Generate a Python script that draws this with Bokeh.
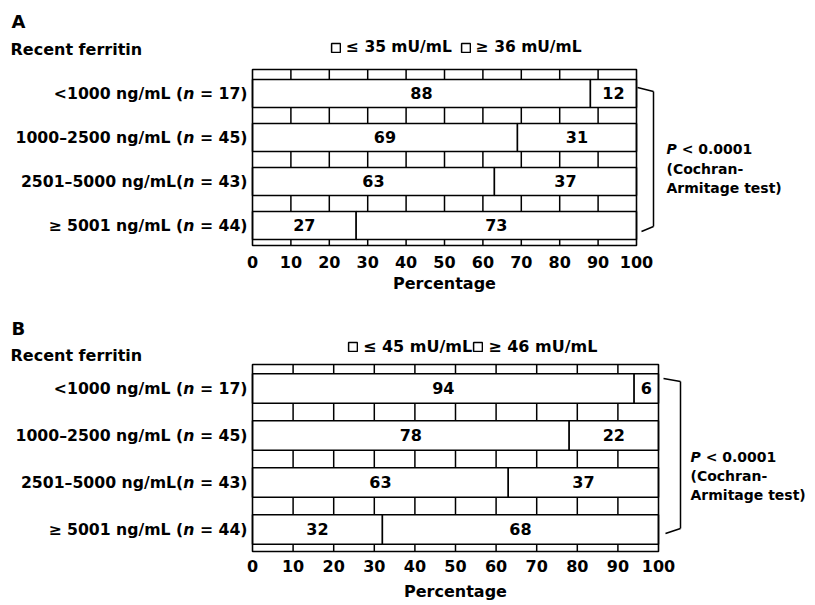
from bokeh.plotting import figure
from bokeh.models import Range1d, Label, Arrow, Legend, LegendItem, ColumnDataSource
from bokeh.layouts import column
from bokeh.core.properties import value
from bokeh.embed import file_html
from bokeh.resources import INLINE

# ---------------- data ----------------
label_prefix = ["<1000 ng/mL (", "1000\u20132500 ng/mL (", "2501\u20135000 ng/mL(", "\u2265 5001 ng/mL ("]
n_values = [17, 45, 43, 44]
rows = [0, 1, 2, 3]

a_low = [88, 69, 63, 27]
a_high = [12, 31, 37, 73]
b_low = [94, 78, 63, 32]
b_high = [6, 22, 37, 68]

a_legend = ["\u2264 35 mU/mL", "\u2265 36 mU/mL"]
b_legend = ["\u2264 45 mU/mL", "\u2265 46 mU/mL"]
x_ticks = [0, 10, 20, 30, 40, 50, 60, 70, 80, 90, 100]
grid_ticks = [10, 20, 30, 40, 50, 60, 70, 80, 90]
x_label = "Percentage"
p_value_text = "\u00a0< 0.0001"
p_lines = ["(Cochran-", "Armitage test)"]

FONT = "DejaVu Sans"
W = 812
NBSP = "\u00a0"


def make_panel(letter, low, high, legend_labels, g):
    L, R, T, B = g["L"], g["R"], g["T"], g["B"]
    yt, yb = g["ytop"], g["ybot"]
    top = g["fig_top"]
    H = g["H"]

    def dx(px):
        return (px - L) / (R - L) * 100.0

    def dy(py):
        return yt + (py - T) / (B - T) * (yb - yt)

    def lab(**kw):
        kw.setdefault("text_font", FONT)
        kw.setdefault("text_font_style", "bold")
        kw.setdefault("text_color", "black")
        kw.setdefault("text_baseline", "middle")
        return Label(**kw)

    p = figure(width=W, height=H, x_range=Range1d(dx(0), dx(W)),
               y_range=Range1d(dy(top + H), dy(top)),
               output_backend="svg", toolbar_location=None,
               x_axis_location=None, y_axis_location=None, min_border=0)
    p.background_fill_color = "white"
    p.border_fill_color = "white"
    p.outline_line_color = None
    p.grid.visible = False

    # vertical grid lines inside the box
    p.segment(x0=grid_ticks, x1=grid_ticks, y0=[yt] * len(grid_ticks), y1=[yb] * len(grid_ticks),
              line_color="black", line_width=1.5)

    end = [a + b for a, b in zip(low, high)]
    src = ColumnDataSource(dict(y=rows, low=low, high=high, end=end,
                                c1=[v / 2 for v in low],
                                c2=[a + b / 2 for a, b in zip(low, high)],
                                t1=[str(v) for v in low], t2=[str(v) for v in high]))
    r1 = p.hbar(y="y", left=0, right="low", height=g["bar_h"], source=src,
                fill_color="white", line_color="black", line_width=1.5)
    r2 = p.hbar(y="y", left="low", right="end", height=g["bar_h"], source=src,
                fill_color="white", line_color="black", line_width=1.5)
    # outer box
    p.quad(left=[0], right=[100], top=[yt], bottom=[yb], fill_color=None,
           line_color="black", line_width=1.6)

    for col, tcol in (("c1", "t1"), ("c2", "t2")):
        p.text(x=col, y="y", text=tcol, source=src, text_align="center",
               text_baseline="middle", text_font=value(FONT), text_font_style="bold",
               text_font_size="16px", text_color="black")

    # x tick labels and axis title
    p.text(x=x_ticks, y=[dy(g["tick_y"])] * len(x_ticks), text=[str(t) for t in x_ticks],
           text_align="center", text_baseline="middle", text_font=value(FONT),
           text_font_style="bold", text_font_size="16px", text_color="black")
    p.add_layout(lab(x=50, y=dy(g["xlab_y"]), text=x_label, text_font_size="16px",
                     text_align="center"))

    leg = Legend(items=[LegendItem(label=legend_labels[0], renderers=[r1]),
                        LegendItem(label=legend_labels[1], renderers=[r2])],
                 orientation="horizontal",
                 location=(g["leg_x"], top + H - g["leg_bottom"]), spacing=g["leg_sp"],
                 glyph_width=11, glyph_height=11, label_standoff=5, padding=0, margin=0,
                 border_line_color=None, background_fill_alpha=0,
                 label_text_font=FONT, label_text_font_style="bold",
                 label_text_font_size=g["leg_fs"], label_text_color="black")
    p.add_layout(leg)

    # panel letter and header
    p.add_layout(lab(x=dx(11), y=dy(g["letter_y"]), text=letter, text_font_size="18px",
                     text_align="left"))
    p.add_layout(lab(x=dx(10), y=dy(g["rf_y"]), text="Recent ferritin", text_font_size="16px",
                     text_align="left"))

    # category labels with italic n
    fs = 15.7
    for i, (pre, n) in enumerate(zip(label_prefix, n_values)):
        suf = NBSP + "= %d)" % n
        w_suf = 3.383 * fs
        w_n = 0.712 * fs
        base = -5
        p.add_layout(lab(x=0, y=rows[i], x_offset=base, text=suf,
                         text_font_size="%.1fpx" % fs, text_align="right"))
        p.add_layout(lab(x=0, y=rows[i], x_offset=base - w_suf, text="n",
                         text_font_style="bold italic", text_font_size="%.1fpx" % fs,
                         text_align="right"))
        p.add_layout(lab(x=0, y=rows[i], x_offset=base - w_suf - w_n, text=pre,
                         text_font_size="%.1fpx" % fs, text_align="right"))

    # bracket
    pts = g["bracket"]
    for (x0, y0), (x1, y1) in zip(pts[:-1], pts[1:]):
        p.add_layout(Arrow(end=None, x_start=dx(x0), y_start=dy(y0), x_end=dx(x1),
                           y_end=dy(y1), line_color="black", line_width=1.5))

    # P value text
    px0 = g["p_x"]
    pfs = 14
    ys = g["p_ys"]
    p.add_layout(lab(x=dx(px0), y=dy(ys[0]), text="P", text_font_style="bold italic",
                     text_font_size="%dpx" % pfs, text_align="left"))
    p.add_layout(lab(x=dx(px0), y=dy(ys[0]), x_offset=0.733 * pfs, text=p_value_text,
                     text_font_size="%dpx" % pfs, text_align="left"))
    for t, yy in zip(p_lines, ys[1:]):
        p.add_layout(lab(x=dx(px0), y=dy(yy), text=t, text_font_size="%dpx" % pfs,
                         text_align="left"))
    return p


geo_a = dict(fig_top=0, H=300, L=252, R=636, T=69, B=245, ytop=-0.545, ybot=3.455,
             bar_h=0.636, leg_x=330, leg_bottom=56, leg_sp=8, leg_fs="15.5px",
             letter_y=21, rf_y=49, tick_y=261, xlab_y=283,
             bracket=[(637, 87), (653, 91), (653, 226), (641, 231)],
             p_x=666, p_ys=[148, 168, 187])
geo_b = dict(fig_top=300, H=304, L=252, R=658, T=364, B=551, ytop=-0.51, ybot=3.47,
             bar_h=0.628, leg_x=347, leg_bottom=356, leg_sp=0, leg_fs="16px",
             letter_y=328, rf_y=355, tick_y=565, xlab_y=591,
             bracket=[(663, 378), (680, 381), (680, 528), (665, 533)],
             p_x=690, p_ys=[456, 475, 494])

pa = make_panel("A", a_low, a_high, a_legend, geo_a)
pb = make_panel("B", b_low, b_high, b_legend, geo_b)

layout = column(pa, pb, spacing=0)
open("out.html", "w").write(file_html(layout, INLINE))
